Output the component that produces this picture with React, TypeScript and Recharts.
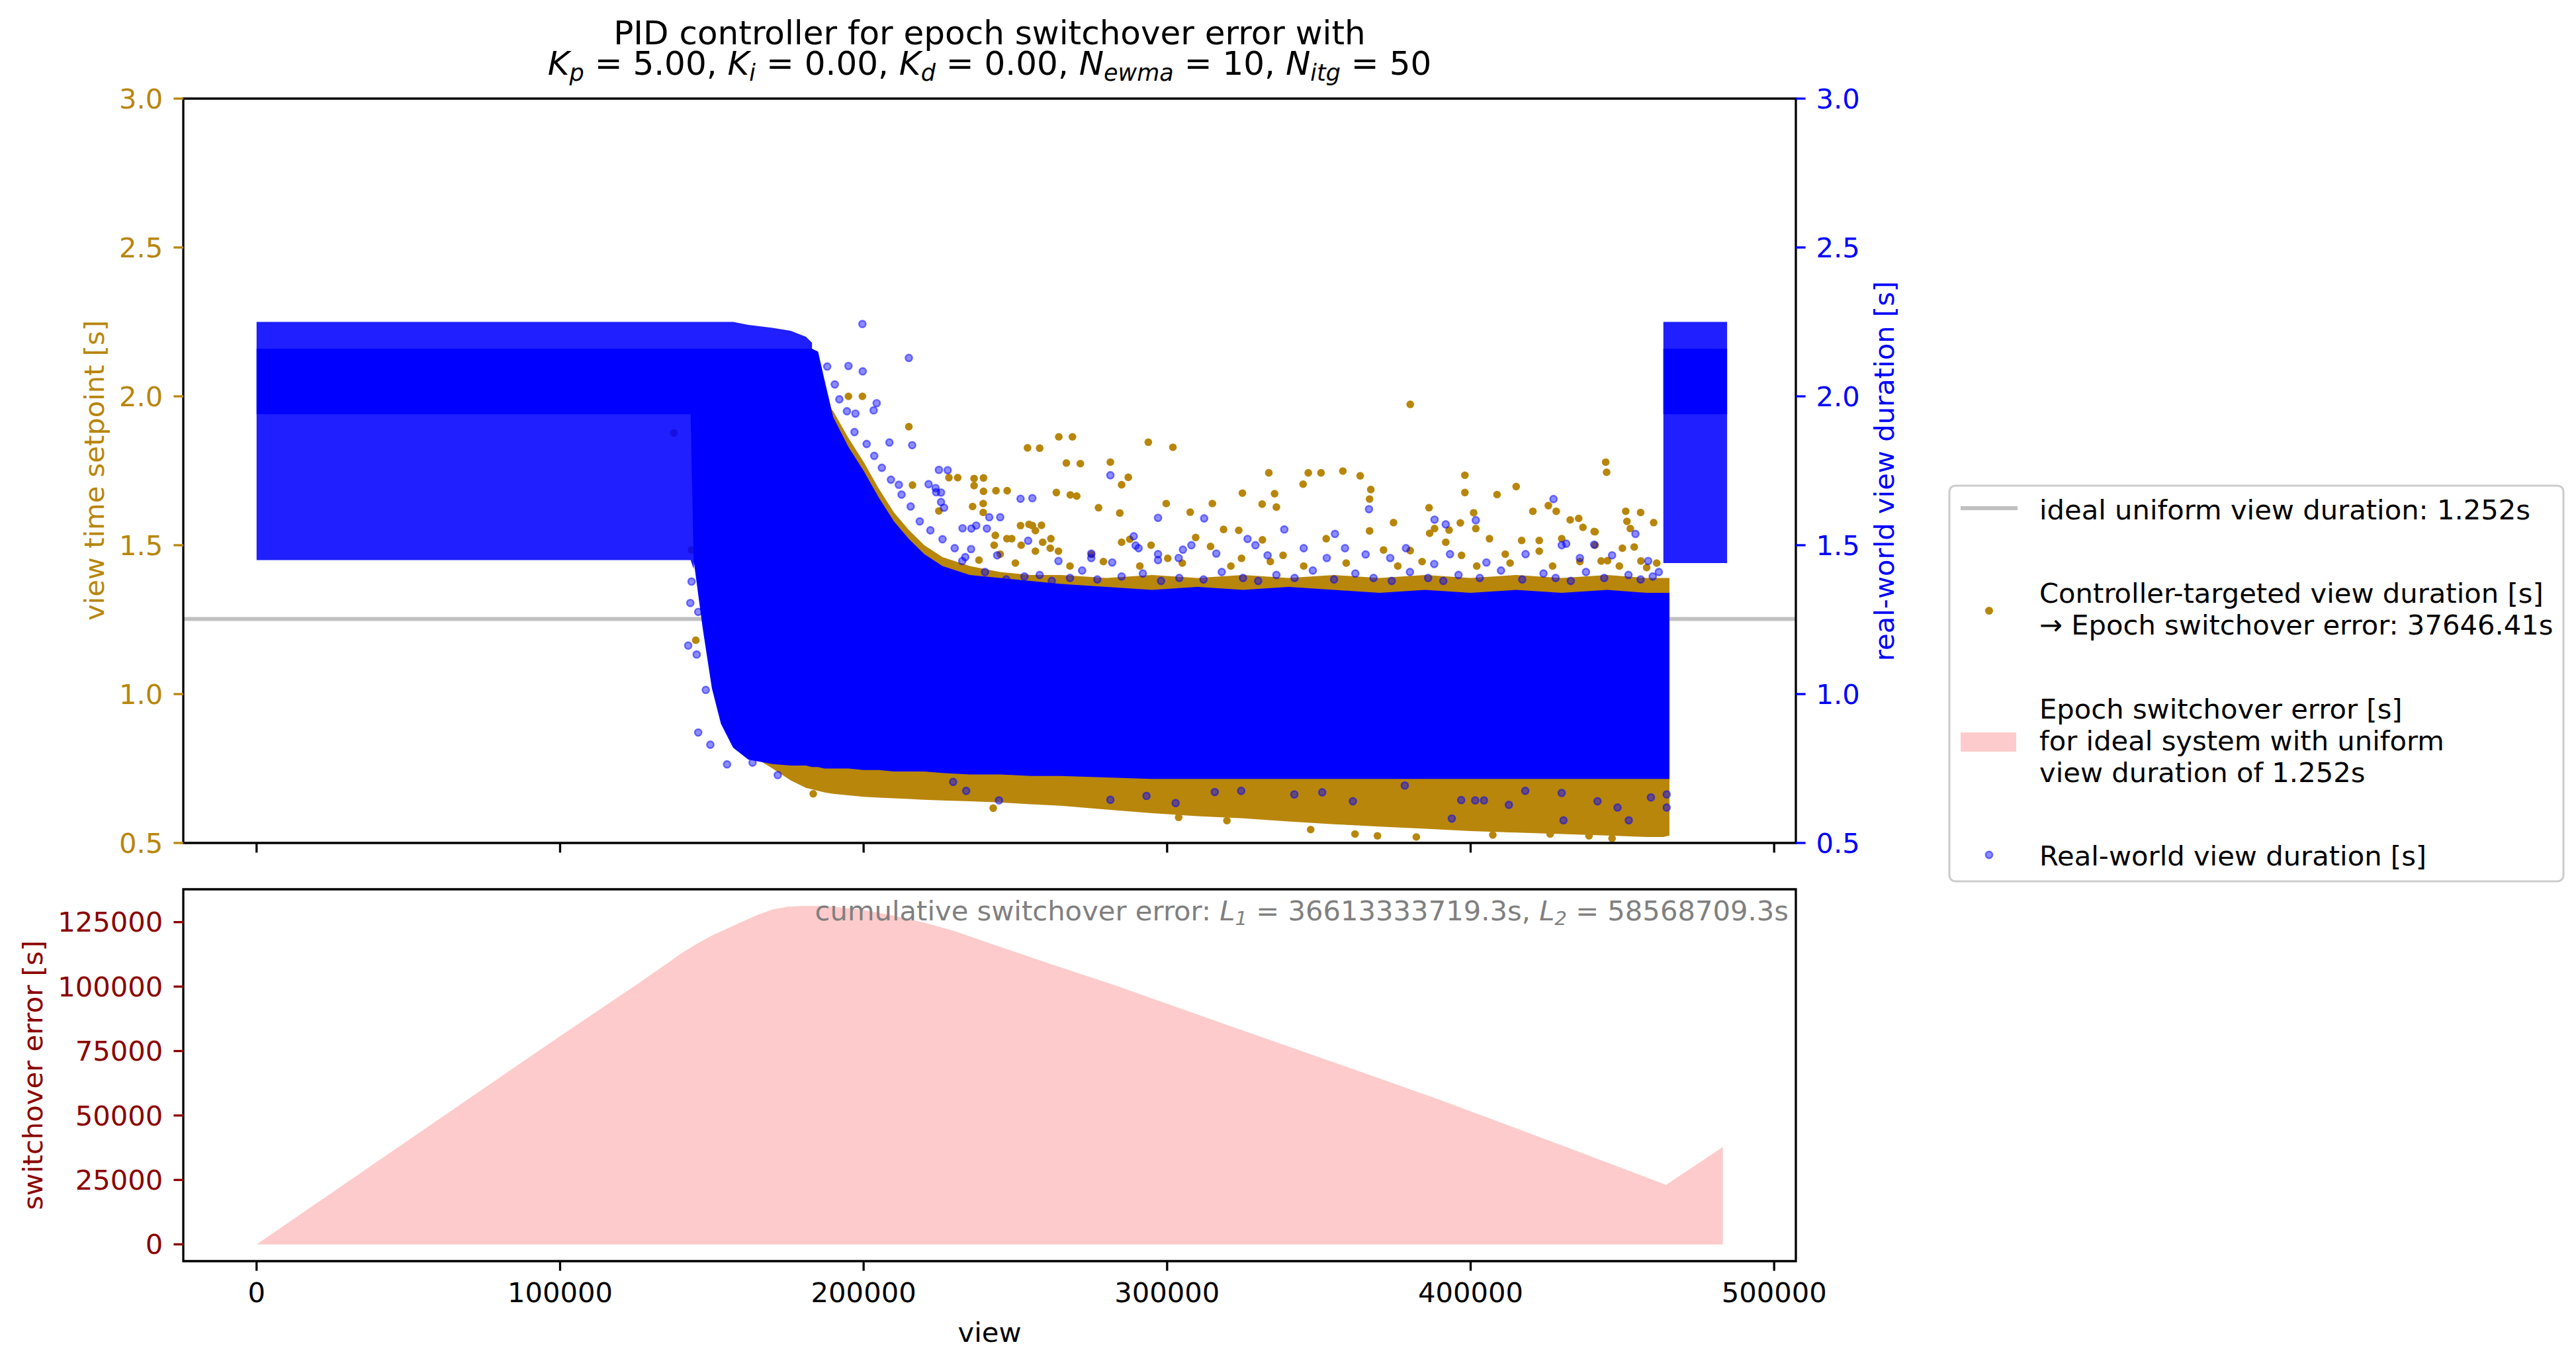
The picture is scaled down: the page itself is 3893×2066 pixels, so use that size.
import React from 'react'
import { ComposedChart, Area, Line, Scatter, XAxis, YAxis, ReferenceArea } from 'recharts'

const FONT = "'DejaVu Sans', sans-serif"
const GOLD = '#b8860b'
const BLUE = '#0000ff'
const DARKRED = '#8b0000'
const PINK = '#fdcbcb'
const IDEAL_GREY = '#c0c0c0'

// figure geometry (px)
const FIG_W = 3893
const FIG_H = 2066
const PLOT_L = 277
const PLOT_R = 2714
const TOP_H = 1340
const TOP_T = 149
const TOP_B = 1274
const BOT_Y0 = 1250
const BOT_H = 816
const BOT_T = 1344
const BOT_B = 1906
const AXIS_W = 200
const FS = 41.7
const TICK = 14.6
const SPINE = 3.3

const X_DOMAIN: [number, number] = [-24150, 507150]
const X_TICKS = [0, 100000, 200000, 300000, 400000, 500000]
const Y_DOMAIN: [number, number] = [0.5, 3.0]
const Y_TICKS = [0.5, 1.0, 1.5, 2.0, 2.5, 3.0]
const ERR_DOMAIN: [number, number] = [-6500, 137750]
const ERR_TICKS = [0, 25000, 50000, 75000, 100000, 125000]
const IDEAL_DURATION = 1.252

// envelopes of the dense point clouds, sampled on a shared view grid
const bandViews = [
  0, 20000, 60000, 100000, 137000, 143000, 144000, 147000, 150000, 153000,
  157000, 162000, 170000, 176000, 181000, 183000, 185000, 187000, 190000, 195000,
  200000, 205000, 210000, 215000, 220000, 226000, 235000, 245000, 255000, 265000,
  280000, 295000, 310000, 325000, 340000, 355000, 370000, 385000, 400000, 415000,
  430000, 445000, 458000, 463500, 465500, 470000, 478000, 484500,
]
// real-world duration, solid core
const coreLo = [
  1.94, 1.94, 1.94, 1.94, 1.94, 1.94, 1.45, 1.22, 1.02, 0.9,
  0.82, 0.78, 0.765, 0.76, 0.76, 0.755, 0.755, 0.75, 0.75, 0.75,
  0.745, 0.745, 0.74, 0.74, 0.74, 0.735, 0.73, 0.73, 0.725, 0.725,
  0.72, 0.715, 0.715, 0.715, 0.715, 0.715, 0.715, 0.715, 0.715, 0.715,
  0.715, 0.715, 0.715, 0.715, 0.715, null, null, null,
]
const coreHi = [
  2.16, 2.16, 2.16, 2.16, 2.16, 2.16, 2.16, 2.16, 2.16, 2.16,
  2.16, 2.16, 2.16, 2.16, 2.16, 2.16, 2.15, 2.06, 1.93, 1.83,
  1.75, 1.66, 1.58, 1.52, 1.47, 1.43, 1.4, 1.39, 1.38, 1.37,
  1.36, 1.35, 1.36, 1.35, 1.36, 1.35, 1.34, 1.35, 1.34, 1.35,
  1.34, 1.35, 1.34, 1.34, 1.34, null, null, null,
]
// real-world duration, sparse haze of the two step blocks
const hazeLo = [
  1.45, 1.45, 1.45, 1.45, 1.45, 1.45, 1.42, 1.9, 1.9, 1.9,
  1.9, 1.9, 1.9, 1.9, 1.9, 1.95, null, null, null, null,
  null, null, null, null, null, null, null, null, null, null,
  null, null, null, null, null, null, null, null, null, null,
  null, null, null, 1.44, 1.44, 1.44, 1.44, 1.44,
]
const hazeHi = [
  2.25, 2.25, 2.25, 2.25, 2.25, 2.25, 2.25, 2.25, 2.25, 2.25,
  2.25, 2.24, 2.23, 2.22, 2.2, 2.18, null, null, null, null,
  null, null, null, null, null, null, null, null, null, null,
  null, null, null, null, null, null, null, null, null, null,
  null, null, null, 2.25, 2.25, 2.25, 2.25, 2.25,
]
// real-world duration, core of the final block
const tailLo = [
  null, null, null, null, null, null, null, null, null, null,
  null, null, null, null, null, null, null, null, null, null,
  null, null, null, null, null, null, null, null, null, null,
  null, null, null, null, null, null, null, null, null, null,
  null, null, null, 1.94, 1.94, 1.94, 1.94, 1.94,
]
const tailHi = [
  null, null, null, null, null, null, null, null, null, null,
  null, null, null, null, null, null, null, null, null, null,
  null, null, null, null, null, null, null, null, null, null,
  null, null, null, null, null, null, null, null, null, null,
  null, null, null, 2.16, 2.16, 2.16, 2.16, 2.16,
]
// controller-targeted duration, dense band
const goldLo = [
  null, null, null, null, null, null, null, 1.3, 1.1, 0.95,
  0.86, 0.8, 0.75, 0.71, 0.685, 0.68, 0.675, 0.67, 0.665, 0.66,
  0.655, 0.652, 0.65, 0.648, 0.645, 0.643, 0.64, 0.636, 0.63, 0.625,
  0.612, 0.6, 0.59, 0.583, 0.572, 0.563, 0.555, 0.548, 0.54, 0.535,
  0.53, 0.525, 0.52, 0.52, 0.525, null, null, null,
]
const goldHi = [
  null, null, null, null, null, null, null, 1.5, 1.6, 1.7,
  1.8, 1.9, 1.95, 2.0, 2.0, 2.0, 2.0, 1.98, 1.95, 1.86,
  1.78, 1.69, 1.61, 1.55, 1.5, 1.46, 1.43, 1.41, 1.4, 1.4,
  1.39, 1.4, 1.39, 1.4, 1.39, 1.4, 1.39, 1.4, 1.39, 1.4,
  1.39, 1.4, 1.39, 1.39, 1.39, null, null, null,
]

// stray controller-targeted points [view, seconds]
const goldDots: [number, number][] = [
  [137500, 1.877], [143300, 1.484], [144700, 1.181], [195000, 2.0], [199600, 2.0], [214900, 1.898],
  [216100, 1.702], [224800, 1.615], [228100, 1.727], [236400, 1.724], [236400, 1.7], [235900, 1.63],
  [243600, 1.683], [254000, 1.827], [264300, 1.864], [266800, 1.776], [263500, 1.677], [251700, 1.566],
  [254500, 1.57], [243400, 1.533], [247200, 1.522], [256600, 1.549], [259000, 1.51], [261500, 1.49],
  [245000, 1.47], [243000, 1.5], [256600, 1.48],
  [380100, 1.973], [268800, 1.864], [258000, 1.826], [293800, 1.846], [301900, 1.829], [271400, 1.774],
  [281300, 1.779], [287200, 1.728], [285000, 1.703], [231000, 1.727], [239500, 1.726], [239500, 1.681],
  [247300, 1.683], [268100, 1.669], [270200, 1.665], [333500, 1.743], [346500, 1.743], [350700, 1.743],
  [357900, 1.749], [363600, 1.733], [344800, 1.705], [367100, 1.687], [366700, 1.655], [398100, 1.735],
  [398100, 1.677], [415000, 1.697], [408700, 1.67], [444500, 1.779], [444800, 1.745], [324800, 1.675],
  [335400, 1.673], [299700, 1.64], [331300, 1.638], [336000, 1.628], [307600, 1.611], [314900, 1.64],
  [284400, 1.608], [277400, 1.626], [255600, 1.566], [258600, 1.567], [239400, 1.64], [239400, 1.61],
  [374600, 1.576], [386300, 1.626], [401700, 1.556], [401000, 1.609], [420500, 1.614], [428200, 1.614],
  [425600, 1.633], [432800, 1.585], [435600, 1.59], [451100, 1.614], [456000, 1.61], [451500, 1.58],
  [460300, 1.576], [452600, 1.556], [440700, 1.546], [437000, 1.56], [453900, 1.494], [443000, 1.447],
  [396600, 1.575], [388100, 1.556], [392900, 1.551],
  [248800, 1.522], [251900, 1.5], [261700, 1.522], [264200, 1.48], [275100, 1.469], [285000, 1.51],
  [287700, 1.52], [294700, 1.5], [300200, 1.456], [309400, 1.526], [314300, 1.496], [318600, 1.553],
  [323600, 1.55], [331400, 1.518], [324500, 1.456], [338200, 1.466], [352400, 1.522], [366700, 1.548],
  [371300, 1.484], [380100, 1.482], [386500, 1.54], [391800, 1.51], [397000, 1.466], [406200, 1.522],
  [411400, 1.47], [416800, 1.516], [422600, 1.516], [422600, 1.48], [430000, 1.522], [441000, 1.5],
  [441000, 1.545], [445100, 1.448], [450000, 1.49], [456100, 1.447], [461300, 1.44],
  [238000, 1.45], [250000, 1.44], [268000, 1.43], [279000, 1.445], [291000, 1.43], [305000, 1.44],
  [321000, 1.43], [334000, 1.445], [345000, 1.43], [359000, 1.44], [376000, 1.43], [384000, 1.445],
  [402000, 1.43], [413000, 1.44], [427000, 1.43], [436000, 1.445], [449000, 1.43], [458000, 1.425],
  [303800, 0.586], [369300, 0.524], [382100, 0.52], [439000, 0.524], [426200, 0.53], [407300, 0.527],
  [446600, 0.515], [361900, 0.53], [347300, 0.545], [319700, 0.575], [242700, 0.617], [183400, 0.665],
]

// stray real-world points [view, seconds]
const blueDots: [number, number][] = [
  [142900, 1.306], [145500, 1.276], [142200, 1.163], [145000, 1.133], [148000, 1.014], [145500, 0.871],
  [149500, 0.83], [155000, 0.764], [163400, 0.77], [171700, 0.728], [143300, 1.378],
  [199600, 2.243], [214900, 2.129], [195000, 2.102], [199700, 2.084], [204300, 1.977], [197300, 1.942],
  [203300, 1.953], [216000, 1.836], [208500, 1.845], [224800, 1.753], [221400, 1.705], [211600, 1.703],
  [223900, 1.678], [251700, 1.656], [241400, 1.594], [232600, 1.557], [237100, 1.566], [254200, 1.515],
  [188000, 2.1], [190500, 2.04], [192000, 1.99], [194500, 1.95], [197000, 1.88], [201000, 1.84],
  [203500, 1.8], [206000, 1.76], [209000, 1.72], [212500, 1.67], [215500, 1.63], [218500, 1.58],
  [222000, 1.55], [226000, 1.52], [230000, 1.49], [233500, 1.46],
  [227700, 1.752], [223700, 1.692], [225500, 1.677], [225500, 1.645], [226500, 1.626], [281300, 1.735],
  [255600, 1.658], [245000, 1.594], [240600, 1.556], [235500, 1.556], [312200, 1.59], [297000, 1.592],
  [366500, 1.621], [388100, 1.586], [401700, 1.584], [391800, 1.57], [427300, 1.655], [454300, 1.538],
  [440700, 1.502], [431500, 1.505], [355300, 1.538], [338600, 1.553], [326500, 1.521], [289600, 1.499],
  [297000, 1.47], [297000, 1.45], [305200, 1.485], [289000, 1.53],
  [232500, 1.447], [235400, 1.487], [244000, 1.466], [264200, 1.447], [275000, 1.457], [275000, 1.472],
  [281900, 1.442], [290600, 1.49], [303800, 1.457], [308000, 1.5], [316200, 1.472], [329100, 1.5],
  [333100, 1.466], [345000, 1.49], [352600, 1.457], [358600, 1.49], [365400, 1.469], [373500, 1.457],
  [378700, 1.49], [388000, 1.437], [393200, 1.47], [405200, 1.442], [418100, 1.47], [430000, 1.5],
  [436000, 1.457], [446600, 1.466], [458500, 1.447],
  [240000, 1.41], [258000, 1.4], [272000, 1.415], [292000, 1.405], [318000, 1.41], [336000, 1.4],
  [348000, 1.415], [362000, 1.405], [380000, 1.41], [396000, 1.4], [410000, 1.415], [424000, 1.405],
  [438000, 1.41], [452000, 1.4], [462000, 1.41],
  [247000, 1.385], [253000, 1.395], [262000, 1.38], [268000, 1.39], [277000, 1.385], [285000, 1.395],
  [298000, 1.38], [304000, 1.39], [312000, 1.385], [325000, 1.39], [330000, 1.38], [342000, 1.39],
  [355000, 1.385], [368000, 1.39], [374000, 1.38], [386000, 1.39], [391000, 1.38], [403000, 1.39],
  [417000, 1.385], [428000, 1.39], [433000, 1.38], [444000, 1.39], [456000, 1.385], [460000, 1.395],
  [229500, 0.705], [233800, 0.675], [244600, 0.643], [293200, 0.658], [302800, 0.634], [315700, 0.671],
  [281300, 0.645], [324400, 0.675], [341900, 0.663], [351100, 0.67], [361200, 0.64], [378300, 0.693],
  [393800, 0.582], [396900, 0.644], [401500, 0.643], [404400, 0.643], [412600, 0.628], [430000, 0.668],
  [441800, 0.64], [448400, 0.619], [452100, 0.576], [430600, 0.576], [418000, 0.675], [459400, 0.653],
  [464600, 0.619], [464600, 0.663],
]

// cumulative switchover error of the ideal system
const errViews = [
  0, 25000, 50000, 75000, 100000, 125000, 140000, 145000, 150000, 155000, 160000, 165000,
  170000, 175000, 180000, 185000, 190000, 200000, 210000, 220000, 230000, 241000, 260000,
  283500, 320000, 360000, 390000, 430000, 464400, 483100,
]
const errValues = [
  0, 20200, 40400, 60600, 80800, 100600, 112900, 116600, 119800, 122500, 125200, 127800,
  129900, 131000, 131300, 131300, 131000, 129700, 127500, 124800, 121500, 117000, 109400,
  100200, 85000, 68500, 56000, 38400, 23100, 37800,
]

const idealViews = [X_DOMAIN[0], X_DOMAIN[1]]

const rng = (lo: number | null, hi: number | null) => (lo == null || hi == null ? null : [lo, hi])

const bandRows = bandViews.map((v, i) => ({
  v,
  coreLo: coreLo[i], coreHi: coreHi[i],
  hazeLo: hazeLo[i], hazeHi: hazeHi[i],
  tailLo: tailLo[i], tailHi: tailHi[i],
  goldLo: goldLo[i], goldHi: goldHi[i],
}))
const idealRows = idealViews.map((v) => ({ v, y: IDEAL_DURATION }))
const goldRows = goldDots.map(([v, y]) => ({ v, y }))
const blueRows = blueDots.map(([v, y]) => ({ v, y }))
const errRows = errViews.map((v, i) => ({ v, err: errValues[i] }))

const goldDot = (p: any) =>
  p.cx == null ? <g /> : <circle cx={p.cx} cy={p.cy} r={5.8} fill={GOLD} />
const blueDot = (p: any) =>
  p.cx == null ? <g /> : (
    <circle cx={p.cx} cy={p.cy} r={5.2} fill={BLUE} fillOpacity={0.45} stroke={BLUE} strokeOpacity={0.5} strokeWidth={2.4} />
  )

const tickStyle = (fill: string) => ({ fill, fontSize: FS, fontFamily: FONT })

// italic symbol with subscript, followed by upright text back on the baseline
function Sym({ base, sub, after, size, shift }: { base: string; sub: string; after: string; size: number; shift: number }) {
  return (
    <>
      <tspan fontStyle="italic">{base}</tspan>
      <tspan fontStyle="italic" fontSize={size} dy={shift}>{sub}</tspan>
      <tspan dy={-shift}>{after}</tspan>
    </>
  )
}

// z-order follows matplotlib: ideal line, controller points, then real-world points on top
const Z_IDEAL = 40
const Z_GOLD = 60
const Z_GOLD_DOTS = 70
const Z_BLUE = 100

const band = (key: string, yAxisId: string, fill: string, opacity: number, z: number) => (
  <Area
    key={key}
    yAxisId={yAxisId}
    type="linear"
    dataKey={(d: any) => rng(d[key + 'Lo'], d[key + 'Hi'])}
    fill={fill}
    fillOpacity={opacity}
    stroke="none"
    connectNulls={false}
    isAnimationActive={false}
    zIndex={z}
  />
)

export default function App() {
  return (
    <div style={{ position: 'absolute', left: 0, top: 0, width: FIG_W, height: FIG_H, background: '#fff', fontFamily: FONT }}>
      <div style={{ position: 'absolute', left: 0, top: 0 }}>
        <ComposedChart
          width={FIG_W}
          height={TOP_H}
          data={bandRows}
          margin={{ top: TOP_T, right: FIG_W - PLOT_R - AXIS_W, bottom: TOP_H - TOP_B - 40, left: PLOT_L - AXIS_W }}
        >
          <XAxis
            dataKey="v"
            type="number"
            domain={X_DOMAIN}
            ticks={X_TICKS}
            allowDataOverflow
            height={40}
            axisLine={false}
            tickLine={{ stroke: '#000', strokeWidth: SPINE }}
            tickSize={TICK}
            tickFormatter={() => ''}
          />
          <YAxis
            yAxisId="left"
            type="number"
            domain={Y_DOMAIN}
            ticks={Y_TICKS}
            allowDataOverflow
            width={AXIS_W}
            axisLine={false}
            tickLine={{ stroke: GOLD, strokeWidth: SPINE }}
            tickSize={TICK}
            tickMargin={16}
            tick={tickStyle(GOLD)}
            tickFormatter={(v: number) => v.toFixed(1)}
          />
          <YAxis
            yAxisId="right"
            orientation="right"
            type="number"
            domain={Y_DOMAIN}
            ticks={Y_TICKS}
            allowDataOverflow
            width={AXIS_W}
            axisLine={false}
            tickLine={{ stroke: BLUE, strokeWidth: SPINE }}
            tickSize={TICK}
            tickMargin={16}
            tick={tickStyle(BLUE)}
            tickFormatter={(v: number) => v.toFixed(1)}
          />
          <Line
            yAxisId="left"
            data={idealRows}
            dataKey="y"
            type="linear"
            stroke={IDEAL_GREY}
            strokeWidth={6}
            dot={false}
            activeDot={false}
            isAnimationActive={false}
            zIndex={Z_IDEAL}
          />
          {band('gold', 'left', GOLD, 1, Z_GOLD)}
          <Scatter yAxisId="left" data={goldRows} dataKey="y" shape={goldDot} isAnimationActive={false} zIndex={Z_GOLD_DOTS} />
          {band('haze', 'right', BLUE, 0.88, Z_BLUE)}
          {band('core', 'right', BLUE, 1, Z_BLUE)}
          {band('tail', 'right', BLUE, 1, Z_BLUE)}
          <Scatter yAxisId="right" data={blueRows} dataKey="y" shape={blueDot} isAnimationActive={false} />
          <ReferenceArea
            yAxisId="left"
            x1={X_DOMAIN[0]}
            x2={X_DOMAIN[1]}
            y1={Y_DOMAIN[0]}
            y2={Y_DOMAIN[1]}
            fill="none"
            fillOpacity={0}
            stroke="#000"
            strokeWidth={SPINE}
            ifOverflow="visible"
          />
        </ComposedChart>
      </div>

      <div style={{ position: 'absolute', left: 0, top: BOT_Y0 }}>
        <ComposedChart
          width={FIG_W}
          height={BOT_H}
          data={errRows}
          margin={{ top: BOT_T - BOT_Y0, right: FIG_W - PLOT_R, bottom: BOT_H - (BOT_B - BOT_Y0) - 60, left: PLOT_L - AXIS_W }}
        >
          <XAxis
            dataKey="v"
            type="number"
            domain={X_DOMAIN}
            ticks={X_TICKS}
            allowDataOverflow
            height={60}
            axisLine={false}
            tickLine={{ stroke: '#000', strokeWidth: SPINE }}
            tickSize={TICK}
            tickMargin={18}
            tick={tickStyle('#000')}
          />
          <YAxis
            type="number"
            domain={ERR_DOMAIN}
            ticks={ERR_TICKS}
            allowDataOverflow
            width={AXIS_W}
            axisLine={false}
            tickLine={{ stroke: DARKRED, strokeWidth: SPINE }}
            tickSize={TICK}
            tickMargin={16}
            tick={tickStyle(DARKRED)}
          />
          <Area
            type="linear"
            dataKey="err"
            fill={PINK}
            fillOpacity={1}
            stroke="none"
            baseValue={0}
            isAnimationActive={false}
          />
          <ReferenceArea
            x1={X_DOMAIN[0]}
            x2={X_DOMAIN[1]}
            y1={ERR_DOMAIN[0]}
            y2={ERR_DOMAIN[1]}
            fill="none"
            fillOpacity={0}
            stroke="#000"
            strokeWidth={SPINE}
            ifOverflow="visible"
          />
        </ComposedChart>
      </div>

      <svg
        width={FIG_W}
        height={FIG_H}
        style={{ position: 'absolute', left: 0, top: 0, pointerEvents: 'none' }}
        fontFamily={FONT}
      >
        <text x={1495.5} y={67} textAnchor="middle" fontSize={50} fill="#000">
          PID controller for epoch switchover error with
        </text>
        <text x={1495.5} y={113} textAnchor="middle" fontSize={50} fill="#000">
          <Sym base="K" sub="p" after={' = 5.00, '} size={35} shift={9} />
          <Sym base="K" sub="i" after={' = 0.00, '} size={35} shift={9} />
          <Sym base="K" sub="d" after={' = 0.00, '} size={35} shift={9} />
          <Sym base="N" sub="ewma" after={' = 10, '} size={35} shift={9} />
          <Sym base="N" sub="itg" after={' = 50'} size={35} shift={9} />
        </text>

        <text transform="rotate(-90 157 711)" x={157} y={711} textAnchor="middle" fontSize={FS} fill={GOLD}>
          view time setpoint [s]
        </text>
        <text transform="rotate(-90 2862 712)" x={2862} y={712} textAnchor="middle" fontSize={FS} fill={BLUE}>
          real-world view duration [s]
        </text>
        <text transform="rotate(-90 64 1625)" x={64} y={1625} textAnchor="middle" fontSize={FS} fill={DARKRED}>
          switchover error [s]
        </text>
        <text x={1495.5} y={2028} textAnchor="middle" fontSize={FS} fill="#000">
          view
        </text>

        <text x={2703} y={1391} textAnchor="end" fontSize={FS} fill="#808080">
          <tspan>{'cumulative switchover error: '}</tspan>
          <Sym base="L" sub="1" after={' = 36613333719.3s, '} size={29} shift={7} />
          <Sym base="L" sub="2" after={' = 58568709.3s'} size={29} shift={7} />
        </text>

        <rect x={2946} y={734} width={928} height={598} rx={9} fill="#fff" fillOpacity={0.8} stroke="#cccccc" strokeWidth={3} />
        <line x1={2963} x2={3049} y1={768} y2={768} stroke={IDEAL_GREY} strokeWidth={6} />
        <text x={3082} y={785} fontSize={FS} fill="#000">ideal uniform view duration: 1.252s</text>
        <circle cx={3006} cy={923} r={6} fill={GOLD} />
        <text x={3082} y={911} fontSize={FS} fill="#000">Controller-targeted view duration [s]</text>
        <text x={3082} y={959} fontSize={FS} fill="#000">→ Epoch switchover error: 37646.41s</text>
        <rect x={2963} y={1107} width={84} height={29} fill={PINK} />
        <text x={3082} y={1086} fontSize={FS} fill="#000">Epoch switchover error [s]</text>
        <text x={3082} y={1134} fontSize={FS} fill="#000">for ideal system with uniform</text>
        <text x={3082} y={1182} fontSize={FS} fill="#000">view duration of 1.252s</text>
        <circle cx={3006} cy={1292} r={5.2} fill={BLUE} fillOpacity={0.45} stroke={BLUE} strokeOpacity={0.5} strokeWidth={2.4} />
        <text x={3082} y={1308} fontSize={FS} fill="#000">Real-world view duration [s]</text>
      </svg>
    </div>
  )
}
